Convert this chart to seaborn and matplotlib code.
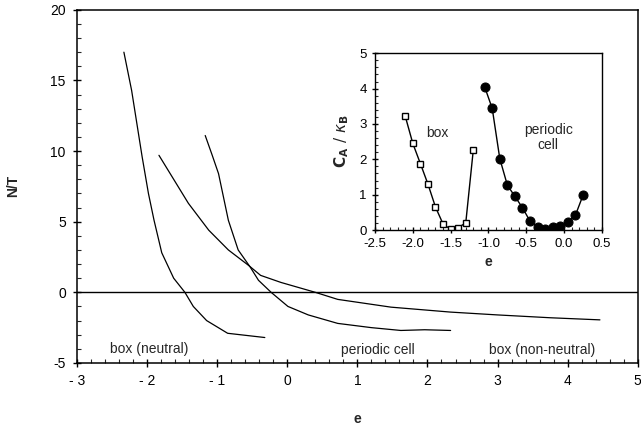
import numpy as np
import pandas as pd
import seaborn as sns
import matplotlib.pyplot as plt
import matplotlib.ticker as ticker

# main panel: N/T vs e
neutral_e = [-2.33, -2.22, -2.07, -1.98, -1.90, -1.79, -1.62, -1.46, -1.34, -1.15, -0.85, -0.32]
neutral_n = [17.0, 14.3, 9.6, 7.0, 5.1, 2.8, 1.0, 0.0, -1.0, -2.0, -2.9, -3.2]

nonneutral_e = [-1.83, -1.41, -1.12, -0.84, -0.55, -0.38, -0.09, 0.40, 0.72, 1.48, 2.33, 3.00, 3.75, 4.46]
nonneutral_n = [9.7, 6.3, 4.4, 3.0, 1.9, 1.2, 0.7, 0.0, -0.5, -1.05, -1.4, -1.6, -1.8, -1.95]

periodic_e = [-1.17, -1.07, -0.98, -0.84, -0.70, -0.53, -0.41, -0.23, 0.01, 0.30, 0.72, 1.20, 1.62, 1.96, 2.33]
periodic_n = [11.1, 9.7, 8.4, 5.1, 3.0, 1.8, 0.85, 0.0, -1.0, -1.6, -2.2, -2.5, -2.7, -2.65, -2.7]

# inset: C_A / k_B vs e
box_e = [-2.1, -2.0, -1.9, -1.8, -1.7, -1.6, -1.5, -1.4, -1.3, -1.2]
box_c = [3.22, 2.45, 1.88, 1.30, 0.65, 0.17, 0.02, 0.07, 0.20, 2.27]

cell_e = [-1.05, -0.95, -0.85, -0.75, -0.65, -0.55, -0.45, -0.35, -0.25, -0.15, -0.05, 0.05, 0.15, 0.25]
cell_c = [4.05, 3.44, 2.02, 1.27, 0.95, 0.63, 0.25, 0.10, 0.03, 0.08, 0.12, 0.22, 0.42, 0.98]

main_xticks = [-3, -2, -1, 0, 1, 2, 3, 4, 5]
main_xlabels = ['- 3', '- 2', '- 1', '0', '1', '2', '3', '4', '5']

sns.set_style('ticks')
plt.rcParams['font.family'] = ['Liberation Sans', 'DejaVu Sans']
plt.rcParams['axes.unicode_minus'] = False

fig = plt.figure(figsize=(6.41, 4.26), dpi=100)
ax = fig.add_axes([0.120, 0.148, 0.875, 0.829])

for e, n in [(neutral_e, neutral_n), (nonneutral_e, nonneutral_n), (periodic_e, periodic_n)]:
    sns.lineplot(x=e, y=n, sort=False, color='black', linewidth=0.9, ax=ax)
ax.axhline(0, color='black', linewidth=1.0)

ax.set_xlim(-3, 5)
ax.set_ylim(-5, 20)
ax.set_xticks(main_xticks)
ax.set_xticklabels(main_xlabels)
ax.set_yticks([-5, 0, 5, 10, 15, 20])
ax.xaxis.set_minor_locator(ticker.MultipleLocator(0.2))
ax.yaxis.set_minor_locator(ticker.MultipleLocator(1))
ax.tick_params(which='major', direction='inout', length=6, width=1, labelsize=10,
               colors='black', pad=5)
ax.tick_params(which='minor', direction='in', length=3, width=0.8)
for s in ax.spines.values():
    s.set_color('black')
    s.set_linewidth(1.1)
ax.set_xlabel('e', fontweight='bold', fontsize=10, labelpad=17)
ax.set_ylabel('N/T', fontweight='bold', fontsize=10, labelpad=22)

ax.text(-1.97, -4.0, 'box (neutral)', ha='center', va='center', fontsize=10)
ax.text(1.29, -4.05, 'periodic cell', ha='center', va='center', fontsize=10)
ax.text(3.64, -4.05, 'box (non-neutral)', ha='center', va='center', fontsize=10)

# inset
ins = fig.add_axes([0.585, 0.460, 0.354, 0.415])
sns.lineplot(x=box_e, y=box_c, sort=False, color='black', linewidth=1, marker='s',
             markersize=5, markerfacecolor='white', markeredgecolor='black',
             markeredgewidth=1, ax=ins)
sns.lineplot(x=cell_e, y=cell_c, sort=False, color='black', linewidth=1, marker='o',
             markersize=6.5, markerfacecolor='black', markeredgecolor='black', ax=ins)
ins.set_xlim(-2.5, 0.5)
ins.set_ylim(0, 5)
ins.set_xticks([-2.5, -2.0, -1.5, -1.0, -0.5, 0.0, 0.5])
ins.xaxis.set_major_formatter(ticker.FormatStrFormatter('%.1f'))
ins.set_yticks([0, 1, 2, 3, 4, 5])
ins.xaxis.set_minor_locator(ticker.MultipleLocator(0.1))
ins.yaxis.set_minor_locator(ticker.MultipleLocator(0.2))
ins.tick_params(which='major', direction='inout', length=5, width=1, labelsize=9.5, colors='black')
ins.tick_params(which='minor', direction='in', length=2.5, width=0.8)
for s in ins.spines.values():
    s.set_color('black')
    s.set_linewidth(1)
ins.set_xlabel('e', fontweight='bold', fontsize=10, labelpad=3)
ins.set_ylabel(r'$\mathbf{C}_\mathbf{A}\ /\ \kappa_\mathbf{B}$', fontsize=11, labelpad=6)
ins.text(-1.67, 2.74, 'box', ha='center', va='center', fontsize=10)
ins.text(-0.21, 2.62, 'periodic\ncell', ha='center', va='center', fontsize=10, linespacing=1.1)

fig.savefig('out.png', dpi=100)
